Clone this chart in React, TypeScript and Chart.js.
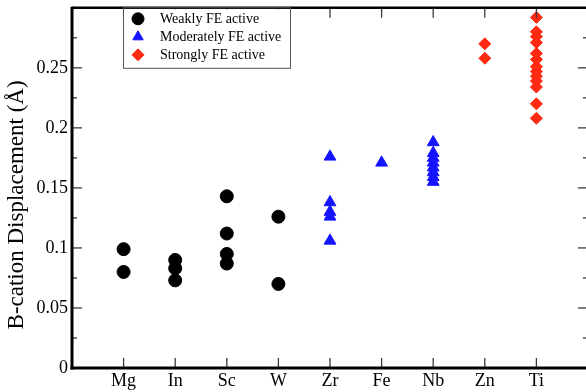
import { useEffect, useRef } from 'react';
import { Chart, registerables } from 'chart.js';
import { drawPoint } from 'chart.js/helpers';

Chart.register(...registerables);

const categories = ['Mg', 'In', 'Sc', 'W', 'Zr', 'Fe', 'Nb', 'Zn', 'Ti'];
const yTickLabels = ['0', '0.05', '0.1', '0.15', '0.2', '0.25'];
const yMajorTicks = [0, 0.05, 0.1, 0.15, 0.2, 0.25, 0.3];
const yMinorTicks = [0.025, 0.075, 0.125, 0.175, 0.225, 0.275];
const seriesLabels = ['Weakly FE active', 'Moderately FE active', 'Strongly FE active'];
const yTitle = 'B-cation Displacement (Å)';

const weakCategory = ['Mg', 'Mg', 'In', 'In', 'In', 'Sc', 'Sc', 'Sc', 'Sc', 'W', 'W'];
const weakValues = [0.099, 0.08, 0.09, 0.083, 0.073, 0.143, 0.112, 0.095, 0.087, 0.126, 0.07];

const moderateCategory = ['Zr', 'Zr', 'Zr', 'Zr', 'Zr', 'Fe', 'Nb', 'Nb', 'Nb', 'Nb', 'Nb', 'Nb', 'Nb', 'Nb'];
const moderateValues = [0.176, 0.138, 0.13, 0.126, 0.106, 0.171, 0.188, 0.179, 0.175, 0.171, 0.167, 0.163, 0.159, 0.155];

const strongCategory = ['Zn', 'Zn', 'Ti', 'Ti', 'Ti', 'Ti', 'Ti', 'Ti', 'Ti', 'Ti', 'Ti', 'Ti', 'Ti', 'Ti', 'Ti'];
const strongValues = [0.27, 0.258, 0.292, 0.28, 0.276, 0.271, 0.262, 0.257, 0.251, 0.247, 0.243, 0.239, 0.234, 0.22, 0.208];

const colors = ['#000000', '#1414ff', '#ff2a12'];
const styles = ['circle', 'triangle', 'rectRot'];
const radii = [6.5, 6.8, 6];

const SERIF = "'Liberation Serif', 'Times New Roman', serif";

function toPoints(cats: string[], vals: number[]) {
  return cats.map((c, i) => ({ x: categories.indexOf(c) + 1, y: vals[i] }));
}

const framePlugin = {
  id: 'frame',
  afterDatasetsDraw(chart: any) {
    const { ctx, chartArea: a, scales } = chart;
    const xs = scales.x;
    const ys = scales.y;
    const line = (x1: number, y1: number, x2: number, y2: number) => {
      ctx.beginPath();
      ctx.moveTo(x1, y1);
      ctx.lineTo(x2, y2);
      ctx.stroke();
    };
    ctx.save();
    ctx.strokeStyle = '#3a3a3a';
    ctx.lineWidth = 1.3;
    categories.forEach((_, i) => {
      const px = xs.getPixelForValue(i + 1);
      line(px, a.bottom, px, a.bottom - 10);
      line(px, a.top, px, a.top + 10);
    });
    yMajorTicks.forEach((v) => {
      const py = ys.getPixelForValue(v);
      line(a.left, py, a.left + 10, py);
      line(a.right, py, a.right - 10, py);
    });
    yMinorTicks.forEach((v) => {
      const py = ys.getPixelForValue(v);
      line(a.left, py, a.left + 5, py);
      line(a.right, py, a.right - 5, py);
    });
    ctx.strokeStyle = '#000';
    ctx.lineWidth = 3;
    line(a.left, a.top - 1, a.left, a.bottom + 1.5);
    line(a.left - 1.5, a.bottom, a.right, a.bottom);
    ctx.lineWidth = 2.5;
    line(a.left, a.top, a.right, a.top);
    line(a.right, a.top, a.right, a.bottom);

    // legend
    const bl = a.left + 51;
    const bt = a.top;
    const bw = 167;
    const bh = 60;
    ctx.fillStyle = '#fff';
    ctx.fillRect(bl, bt + 1.5, bw, bh - 1.5);
    ctx.strokeStyle = '#555';
    ctx.lineWidth = 1;
    ctx.strokeRect(bl + 0.5, bt, bw, bh + 0.5);
    ctx.font = `14px ${SERIF}`;
    ctx.textBaseline = 'middle';
    ctx.textAlign = 'left';
    chart.data.datasets.forEach((ds: any, i: number) => {
      const ry = bt + 11 + i * 18;
      ctx.fillStyle = ds.backgroundColor;
      ctx.strokeStyle = ds.borderColor;
      ctx.lineWidth = 1;
      drawPoint(ctx, { pointStyle: ds.pointStyle, radius: 6, borderWidth: 1, rotation: 0 } as any, bl + 15, ry);
      ctx.fillStyle = '#000';
      ctx.fillText(ds.label, bl + 37, ry + 1);
    });

    // y title
    ctx.save();
    ctx.translate(a.left - 55, (a.top + a.bottom) / 2 + 17);
    ctx.rotate(-Math.PI / 2);
    ctx.font = `23px ${SERIF}`;
    ctx.fillStyle = '#000';
    ctx.textAlign = 'center';
    ctx.textBaseline = 'middle';
    ctx.fillText(yTitle, 0, 0);
    ctx.restore();
    ctx.restore();
  },
};

export default function App() {
  const ref = useRef<HTMLCanvasElement | null>(null);
  useEffect(() => {
    document.body.style.margin = '0';
    document.body.style.overflow = 'hidden';
    const canvas = ref.current;
    if (!canvas) return;
    const seriesPoints = [
      toPoints(weakCategory, weakValues),
      toPoints(moderateCategory, moderateValues),
      toPoints(strongCategory, strongValues),
    ];
    const chart = new Chart(canvas, {
      type: 'scatter',
      data: {
        datasets: seriesPoints.map((pts, i) => ({
          label: seriesLabels[i],
          data: pts,
          pointStyle: styles[i],
          pointRadius: radii[i],
          pointHoverRadius: radii[i],
          backgroundColor: colors[i],
          borderColor: colors[i],
          borderWidth: 1,
        })),
      },
      plugins: [framePlugin],
      options: {
        responsive: false,
        animation: false,
        devicePixelRatio: 1,
        layout: { padding: { top: 6, right: 12, left: 0, bottom: 0 } },
        plugins: { legend: { display: false }, tooltip: { enabled: false } },
        scales: {
          x: {
            type: 'linear',
            min: 0,
            max: 10,
            grid: { display: false, drawTicks: false, tickLength: 0 },
            border: { display: false },
            afterBuildTicks: (s: any) => {
              s.ticks = categories.map((_, i) => ({ value: i + 1 }));
            },
            afterFit: (s: any) => {
              s.height = 24;
              s.paddingLeft = 0;
              s.paddingRight = 0;
            },
            ticks: {
              autoSkip: false,
              maxRotation: 0,
              padding: 2,
              color: '#000',
              font: { family: SERIF, size: 18 },
              callback: (v: any) => categories[Math.round(v) - 1] ?? '',
            },
          },
          y: {
            min: 0,
            max: 0.3,
            grid: { display: false, drawTicks: false, tickLength: 0 },
            border: { display: false },
            afterBuildTicks: (s: any) => {
              s.ticks = yMajorTicks.map((v) => ({ value: v }));
            },
            afterFit: (s: any) => {
              s.width = 72;
              s.paddingTop = 0;
              s.paddingBottom = 0;
            },
            ticks: {
              padding: 4,
              color: '#000',
              font: { family: SERIF, size: 18 },
              callback: (_v: any, idx: number) => yTickLabels[idx] ?? '',
            },
          },
        },
      },
    } as any);
    return () => chart.destroy();
  }, []);
  return (
    <div style={{ width: 586, height: 392, overflow: 'hidden', position: 'relative', background: '#fff' }}>
      <canvas ref={ref} width={600} height={392} style={{ display: 'block' }} />
    </div>
  );
}
